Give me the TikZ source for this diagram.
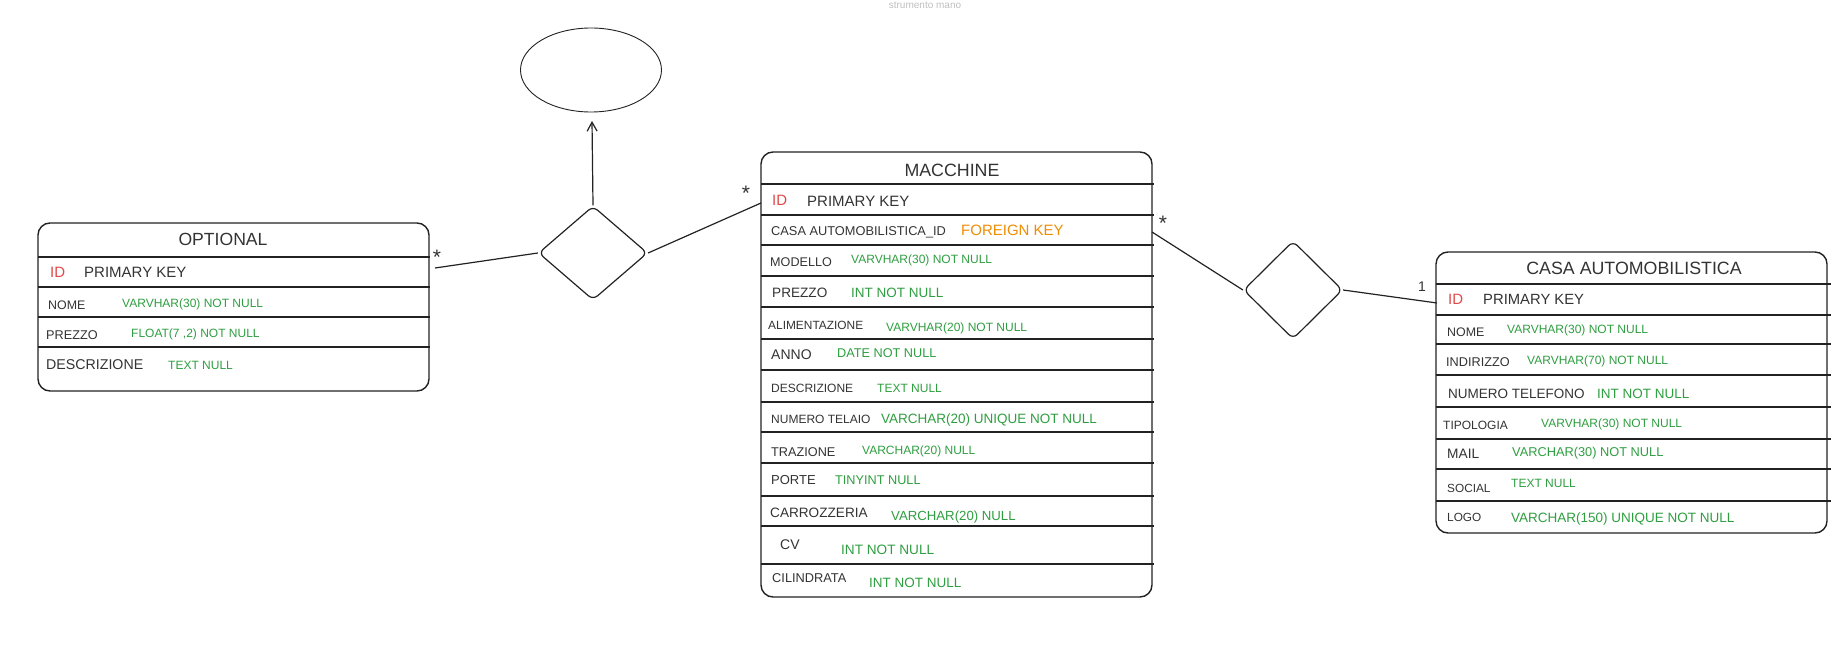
\documentclass[tikz,border=0pt]{standalone}
\usepackage{fontspec}
\setmainfont{Liberation Sans}
\usepackage{tikz}
\usetikzlibrary{positioning}
\usetikzlibrary{shapes.geometric}
\usetikzlibrary{arrows.meta}
\usepackage{xcolor}
\definecolor{txtgray}{HTML}{333333}
\definecolor{pkred}{HTML}{E04848}
\definecolor{typgreen}{HTML}{2E9E40}
\definecolor{fkorange}{HTML}{F08C00}
\definecolor{linegray}{HTML}{222222}
\newcommand{\fsz}[1]{\fontsize{#1}{#1}\selectfont}

\begin{document}
\begin{tikzpicture}[x=1pt,y=-1pt,
  table/.style={draw=linegray, line width=1.4pt, rounded corners=12pt, inner sep=0},
  sep/.style={draw=linegray, line width=1.3pt},
  conn/.style={draw=linegray, line width=1.2pt},
  rel/.style={diamond, draw=linegray, line width=1.2pt, rounded corners=6pt, inner sep=0},
  sz/.style={font=\fsz{#1}},
  ttl/.style={anchor=base, inner sep=0, text=txtgray},
  fld/.style={anchor=base west, inner sep=0, text=txtgray},
  typ/.style={anchor=base west, inner sep=0, text=typgreen},
  pk/.style={anchor=base west, inner sep=0, text=pkred},
  fk/.style={anchor=base west, inner sep=0, text=fkorange},
  card/.style={inner sep=0, text=txtgray}]

\useasboundingbox (0,0) rectangle (1840,671);

\node[anchor=base, inner sep=0, text=black!25, sz=10] (tool) at (925,9) {strumento mano};

% tables
\node[table, minimum width=391pt, minimum height=168pt] (opt) at (233.5,307) {};
\node[table, minimum width=391pt, minimum height=445pt] (mac) at (956.5,374.5) {};
\node[table, minimum width=391pt, minimum height=281pt] (casa) at (1631.5,392.5) {};

\foreach \y in {257,287,317,347} \draw[sep] (38,\y) -- (430,\y);
\foreach \y in {184,215,245,276,307,339,370,402,432,463,496,526,564} \draw[sep] (761,\y) -- (1154,\y);
\foreach \y in {284,315,344,375,407,439,469,501} \draw[sep] (1436,\y) -- (1831,\y);

% OPTIONAL
\node[ttl, sz=17.6] (optT) at (223,246) {OPTIONAL};
\node[pk, sz=15] (optId) at (50,277) {ID};
\node[fld, sz=15] (optPk) at (84,277) {PRIMARY KEY};
\node[fld, sz=12.4] (optNome) at (48,309) {NOME};
\node[typ, sz=12] (optNomeT) at (122,307) {VARVHAR(30) NOT NULL};
\node[fld, sz=12.7] (optPrezzo) at (46,339) {PREZZO};
\node[typ, sz=12] (optPrezzoT) at (131,337) {FLOAT(7 ,2) NOT NULL};
\node[fld, sz=14.2] (optDesc) at (46,369) {DESCRIZIONE};
\node[typ, sz=12] (optDescT) at (168,369) {TEXT NULL};

% MACCHINE
\node[ttl, sz=17.8] (macT) at (952,177) {MACCHINE};
\node[pk, sz=15] (macId) at (772,206) {ID};
\node[fld, sz=15] (macPk) at (807,207) {PRIMARY KEY};
\node[fld, sz=12.8] (macCasa) at (771,236) {CASA AUTOMOBILISTICA\_ID};
\node[fk, sz=15] (macCasaT) at (961,236) {FOREIGN KEY};
\node[fld, sz=12.6] (macMod) at (770,266) {MODELLO};
\node[typ, sz=12] (macModT) at (851,264) {VARVHAR(30) NOT NULL};
\node[fld, sz=13.6] (macPrezzo) at (772,298) {PREZZO};
\node[typ, sz=13.5] (macPrezzoT) at (851,298) {INT NOT NULL};
\node[fld, sz=11.9] (macAlim) at (768,329) {ALIMENTAZIONE};
\node[typ, sz=12] (macAlimT) at (886,331) {VARVHAR(20) NOT NULL};
\node[fld, sz=14] (macAnno) at (771,359) {ANNO};
\node[typ, sz=12.7] (macAnnoT) at (837,357) {DATE NOT NULL};
\node[fld, sz=12] (macDesc) at (771,392) {DESCRIZIONE};
\node[typ, sz=12] (macDescT) at (877,392) {TEXT NULL};
\node[fld, sz=12] (macTel) at (771,423) {NUMERO TELAIO};
\node[typ, sz=13.5] (macTelT) at (881,423) {VARCHAR(20) UNIQUE NOT NULL};
\node[fld, sz=12.7] (macTraz) at (771,456) {TRAZIONE};
\node[typ, sz=12] (macTrazT) at (862,454) {VARCHAR(20) NULL};
\node[fld, sz=13] (macPorte) at (771,484) {PORTE};
\node[typ, sz=12.7] (macPorteT) at (835,484) {TINYINT NULL};
\node[fld, sz=13.6] (macCarr) at (770,517) {CARROZZERIA};
\node[typ, sz=13.2] (macCarrT) at (891,520) {VARCHAR(20) NULL};
\node[fld, sz=14] (macCv) at (780,549) {CV};
\node[typ, sz=13.6] (macCvT) at (841,554) {INT NOT NULL};
\node[fld, sz=12.8] (macCil) at (772,582) {CILINDRATA};
\node[typ, sz=13.5] (macCilT) at (869,587) {INT NOT NULL};

% CASA AUTOMOBILISTICA
\node[ttl, sz=17.8] (casaT) at (1634,274) {CASA AUTOMOBILISTICA};
\node[pk, sz=15] (casaId) at (1448,305) {ID};
\node[fld, sz=14.8] (casaPk) at (1483,305) {PRIMARY KEY};
\node[fld, sz=12.4] (casaNome) at (1447,336) {NOME};
\node[typ, sz=12] (casaNomeT) at (1507,333) {VARVHAR(30) NOT NULL};
\node[fld, sz=12.7] (casaInd) at (1446,366) {INDIRIZZO};
\node[typ, sz=12] (casaIndT) at (1527,364) {VARVHAR(70) NOT NULL};
\node[fld, sz=13.5] (casaTel) at (1448,398) {NUMERO TELEFONO};
\node[typ, sz=13.5] (casaTelT) at (1597,398) {INT NOT NULL};
\node[fld, sz=12] (casaTip) at (1443,429) {TIPOLOGIA};
\node[typ, sz=12] (casaTipT) at (1541,427) {VARVHAR(30) NOT NULL};
\node[fld, sz=13.7] (casaMail) at (1447,458) {MAIL};
\node[typ, sz=12.8] (casaMailT) at (1512,456) {VARCHAR(30) NOT NULL};
\node[fld, sz=11.8] (casaSoc) at (1447,492) {SOCIAL};
\node[typ, sz=12] (casaSocT) at (1511,487) {TEXT NULL};
\node[fld, sz=11.8] (casaLogo) at (1447,521) {LOGO};
\node[typ, sz=13.5] (casaLogoT) at (1511,522) {VARCHAR(150) UNIQUE NOT NULL};

% relations
\node[rel, aspect=1.16, minimum width=109pt, minimum height=94pt] (rel1) at (593,253) {};
\node[rel, aspect=1.02, minimum width=99pt, minimum height=98pt] (rel2) at (1293,290) {};
\node[ellipse, draw=linegray, line width=0.9pt, minimum width=141pt, minimum height=84pt] (ell) at (591,70) {};

\coordinate (optR) at (435,268);
\coordinate (macL) at (761,203);
\coordinate (macR) at (1152,232);
\coordinate (casaL) at (1437,303);
\coordinate (ellB) at (592,121);

\draw[conn] (rel1.west) -- (optR);
\draw[conn] (rel1.east) -- (macL);
\draw[conn] (macR) -- (rel2.west);
\draw[conn] (rel2.east) -- (casaL);
\draw[conn, -{Straight Barb[length=9pt,width=10pt]}] (rel1.north) -- (ellB);

\node[card, sz=21] (c1) at (437,257) {*};
\node[card, sz=21] (c2) at (746,193) {*};
\node[card, sz=21] (c3) at (1163,223) {*};
\node[card, sz=14] (c4) at (1422,287) {1};

\end{tikzpicture}
\end{document}
